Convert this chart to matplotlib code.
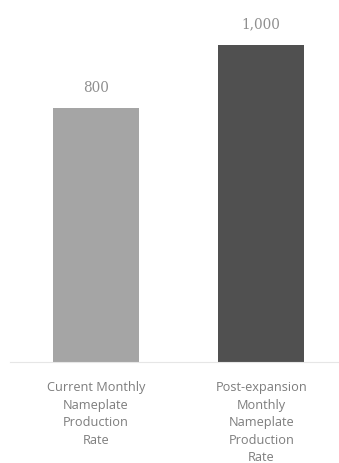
import matplotlib.pyplot as plt

categories = ["Current Monthly\nNameplate\nProduction\nRate",
              "Post-expansion\nMonthly\nNameplate\nProduction\nRate"]
values = [800, 1000]
value_labels = ["800", "1,000"]
colors = ["#a5a5a5", "#505050"]

fig = plt.figure(figsize=(3.39, 4.64), dpi=100)
ax = fig.add_axes([10 / 339, 101 / 464, 329 / 339, 353 / 464])

x = list(range(len(values)))
ax.bar(x, values, width=0.52, color=colors, zorder=2)
ax.set_xlim(-0.52, 1.47)
ax.set_ylim(0, 1000 * 353 / 317)

for xi, v, lab in zip(x, values, value_labels):
    ax.text(xi, v + 45, lab, ha="center", va="bottom", fontsize=9.8,
            color="#8f8f8f", family="DejaVu Serif", fontweight="light")

for xi, cat in zip(x, categories):
    ax.text(xi, -58, cat, ha="center", va="top", fontsize=9.2,
            color="#7d7d7d", family="Open Sans", linespacing=1.45)

for s in ["top", "right", "left"]:
    ax.spines[s].set_visible(False)
ax.spines["bottom"].set_color("#e6e6e6")
ax.spines["bottom"].set_linewidth(0.8)
ax.set_xticks([])
ax.set_yticks([])

fig.savefig("out.png", dpi=100)
